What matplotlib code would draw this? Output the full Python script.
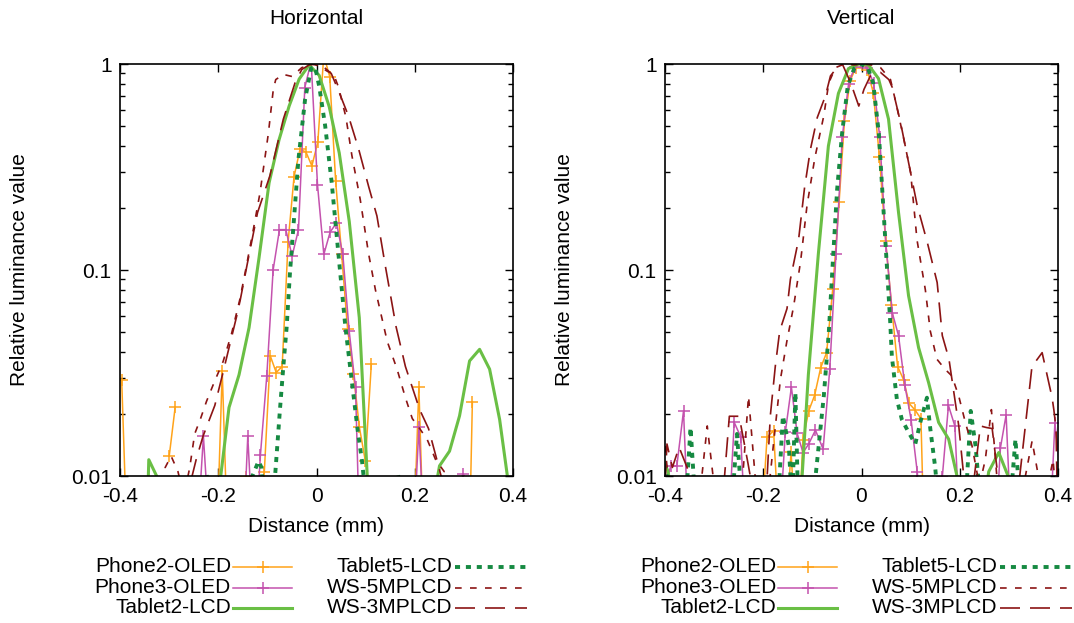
import numpy as np
import matplotlib
matplotlib.use("Agg")
import matplotlib.pyplot as plt
from matplotlib.lines import Line2D
from matplotlib.ticker import LogLocator, NullFormatter, FixedLocator

plt.rcParams['font.family'] = ['Liberation Sans', 'DejaVu Sans']

nan = np.nan

# ---------------- data: Horizontal ----------------
h_phone2_x = [-0.3966, -0.3845, -0.3724, -0.2998, -0.2877, -0.2756, -0.2040, -0.1919, -0.1798, -0.1677,
              -0.1546, -0.1425, -0.1304, -0.1183, -0.1062, -0.0941, -0.0820, -0.0699, -0.0578, -0.0457,
              -0.0336, -0.0215, -0.0094, 0.0027, 0.0148, 0.0269, 0.0390, 0.0511, 0.0632, 0.0753,
              0.0874, 0.0995, 0.1116, 0.1237, 0.1358, 0.1963, 0.2084, 0.2205, 0.2326, 0.3052, 0.3173, 0.3294]
h_phone2_y = [0.0294, 0.004, nan, 0.0125, 0.0216, nan, 0.004, 0.0323, 0.004, nan,
              nan, 0.0099, 0.006, 0.007, 0.0105, 0.0383, 0.0318, 0.034, 0.137, 0.284,
              0.385, 0.374, 0.32, 0.418, 1.1, 0.869, 0.27, 0.12, 0.0519, 0.0312,
              0.0172, 0.0118, 0.0348, nan, nan, 0.004, 0.0269, 0.003, nan, 0.001, 0.0229, nan]

h_phone3_x = [-0.2431, -0.2302, -0.2173, -0.2044, -0.1528, -0.1399, -0.1270, -0.1141, -0.1012, -0.0883,
              -0.0754, -0.0625, -0.0496, -0.0367, -0.0238, -0.0109, 0.0020, 0.0149, 0.0278, 0.0407,
              0.0536, 0.0665, 0.0794, 0.0923, 0.1052, 0.1955, 0.2084, 0.2213, 0.2342, 0.2858, 0.2987,
              0.3116, 0.3245]
h_phone3_y = [0.005, 0.0156, 0.005, nan, 0.003, 0.0156, 0.004, 0.0127, 0.0306, 0.100,
              0.157, 0.157, 0.117, 0.157, 0.768, 1.03, 0.26, 0.119, 0.153, 0.169,
              0.119, 0.0506, 0.0269, 0.002, nan, 0.004, 0.0172, 0.004, nan, 0.009, 0.0102,
              0.009, nan]

h_tablet2_x = [-0.3618, -0.3414, -0.3210, -0.3006, -0.2802, -0.2598, -0.2393, -0.2189, -0.1985, -0.1781,
               -0.1577, -0.1373, -0.1169, -0.0965, -0.0761, -0.0557, -0.0353, -0.0149, 0.0055, 0.0259,
               0.0463, 0.0667, 0.0871, 0.1075, 0.1279, 0.1483, 0.1687, 0.1892, 0.2096, 0.2300,
               0.2504, 0.2708, 0.2912, 0.3116, 0.3320, 0.3524, 0.3728, 0.3932, 0.4136]
h_tablet2_y = [0.0002, 0.012, 0.0095, 0.006, 0.005, 0.005, 0.005, 0.005, 0.0085, 0.0215,
               0.031, 0.0525, 0.115, 0.265, 0.43, 0.625, 0.845, 0.99, 0.88, 0.62,
               0.37, 0.172, 0.0587, 0.0063, 0.004, 0.004, 0.004, 0.004, 0.004, 0.006,
               0.0112, 0.0132, 0.0196, 0.0362, 0.0412, 0.033, 0.0188, 0.0083, 0.005]

h_tablet5_x = [-0.236, -0.224, -0.212, -0.20, -0.145, -0.132, -0.118, -0.112, -0.106, -0.10,
               -0.095, -0.0846, -0.0744, -0.0675, -0.0607, -0.054, -0.0368, -0.0232, -0.011, -0.003,
               0.0055, 0.0177, 0.031, 0.045, 0.0586, 0.0722, 0.0845, 0.0927, 0.100, 0.110,
               0.120, 0.155, 0.166, 0.177]
h_tablet5_y = [0.008, 0.0101, 0.008, nan, 0.006, 0.0098, 0.0118, 0.011, 0.007, nan,
               0.005, 0.0098, 0.021, 0.034, 0.053, 0.097, 0.344, 0.675, 0.95, 0.97,
               0.78, 0.50, 0.265, 0.117, 0.0535, 0.0284, 0.0162, 0.0118, 0.008, 0.005,
               nan, 0.008, 0.0101, 0.008]

h_ws5_x = [-0.320, -0.308, -0.296, -0.282, -0.270, -0.258, -0.248, -0.236, -0.224, -0.207,
           -0.190, -0.173, -0.156, -0.1425, -0.128, -0.115, -0.098, -0.088, -0.083, -0.0675,
           -0.050, -0.030, -0.0096, 0.005, 0.021, 0.035, 0.045, 0.060, 0.072, 0.089,
           0.106, 0.120, 0.144, 0.164, 0.181, 0.195, 0.210, 0.2255, 0.2425, 0.260,
           0.273, 0.285, 0.300]
h_ws5_y = [0.004, 0.011, 0.0125, 0.0105, 0.008, 0.011, 0.016, 0.019, 0.023, 0.029,
           0.036, 0.049, 0.072, 0.105, 0.16, 0.237, 0.46, 0.75, 0.84, 0.89,
           0.87, 0.96, 1.0, 0.98, 0.925, 0.89, 0.77, 0.55, 0.36, 0.22,
           0.12, 0.08, 0.045, 0.033, 0.024, 0.019, 0.017, 0.015, 0.012, 0.0105,
           0.0102, 0.008, 0.005]

h_ws3_x = [-0.270, -0.258, -0.245, -0.231, -0.207, -0.190, -0.163, -0.155, -0.139, -0.120,
           -0.095, -0.0675, -0.0437, -0.030, -0.015, 0.000, 0.012, 0.030, 0.045, 0.065,
           0.086, 0.106, 0.123, 0.140, 0.162, 0.181, 0.210, 0.228, 0.245, 0.256, 0.270]
h_ws3_y = [0.005, 0.009, 0.012, 0.0156, 0.022, 0.032, 0.059, 0.072, 0.113, 0.19,
           0.286, 0.54, 0.81, 0.94, 0.99, 1.0, 0.98, 0.90, 0.74, 0.56,
           0.385, 0.255, 0.183, 0.105, 0.053, 0.034, 0.021, 0.017, 0.012, 0.0095, 0.006]

# ---------------- data: Vertical ----------------
v_phone2_x = [-0.205, -0.1923, -0.179, -0.167, -0.155, -0.1434, -0.131, -0.119, -0.1075, -0.0955,
              -0.083, -0.071, -0.0585, -0.0455, -0.0347, -0.023, -0.0115, 0.000, 0.012, 0.024,
              0.0365, 0.049, 0.061, 0.0735, 0.0855, 0.097, 0.109, 0.121, 0.133]
v_phone2_y = [0.005, 0.0154, 0.0166, 0.005, 0.005, 0.0131, 0.004, 0.015, 0.0207, 0.0246,
              0.0336, 0.0397, 0.081, 0.215, 0.53, 0.83, 0.96, 1.04, 0.93, 0.726,
              0.355, 0.139, 0.068, 0.034, 0.0294, 0.0225, 0.0209, 0.019, 0.0015]

v_phone3_x = [-0.400, -0.388, -0.3759, -0.3623, -0.350, -0.338, -0.272, -0.259, -0.246, -0.233,
              -0.220, -0.168, -0.155, -0.1427, -0.131, -0.119, -0.1075, -0.0938, -0.0781, -0.0646,
              -0.0519, -0.0392, -0.0264, -0.0137, -0.001, 0.0117, 0.0245, 0.0372, 0.0499, 0.0627,
              0.0754, 0.0881, 0.1009, 0.1136, 0.1263, 0.139, 0.1518, 0.1645, 0.177, 0.190,
              0.2025, 0.215, 0.270, 0.2828, 0.2944, 0.307, 0.320, 0.381, 0.3936, 0.406]
v_phone3_y = [0.009, 0.0112, 0.0112, 0.0207, 0.004, nan, 0.005, 0.0182, 0.0155, 0.004,
              nan, 0.005, 0.0164, 0.027, 0.0161, 0.013, 0.0143, 0.0167, 0.0135, 0.033,
              0.12, 0.44, 0.80, 0.97, 1.02, 0.96, 0.81, 0.44, 0.131, 0.062,
              0.048, 0.0277, 0.0188, 0.0104, 0.004, 0.005, 0.006, 0.0099, 0.022, 0.0175,
              0.004, nan, 0.004, 0.0137, 0.0198, 0.004, nan, 0.004, 0.018, 0.010]

v_tablet2_x = [-0.4142, -0.3938, -0.3734, -0.3530, -0.3326, -0.3122, -0.2918, -0.2714, -0.2510, -0.2306,
               -0.2102, -0.1898, -0.1694, -0.1490, -0.1286, -0.1082, -0.0878, -0.0674, -0.0470, -0.0266,
               -0.0062, 0.0142, 0.0346, 0.0550, 0.0754, 0.0958, 0.1162, 0.1366, 0.1570, 0.1774,
               0.1978, 0.2182, 0.2386, 0.2590, 0.2794, 0.2998, 0.3202, 0.3406, 0.3610, 0.3814, 0.4018]
v_tablet2_y = [0.014, 0.0105, 0.005, 0.005, 0.005, 0.005, 0.005, 0.005, 0.005, 0.005,
               0.005, 0.005, 0.005, 0.005, 0.005, 0.031, 0.12, 0.40, 0.72, 0.95,
               1.0, 0.99, 0.85, 0.54, 0.19, 0.075, 0.042, 0.0284, 0.0182, 0.0151,
               0.0092, 0.005, 0.005, 0.0105, 0.013, 0.0098, 0.005, 0.005, 0.005, 0.005, 0.005]

v_tablet5_x = [-0.400, -0.394, -0.388, -0.375, -0.360, -0.348, -0.336, -0.300, -0.266, -0.2535,
               -0.241, -0.200, -0.172, -0.160, -0.148, -0.141, -0.1346, -0.128, -0.115, -0.105,
               -0.0938, -0.0768, -0.0666, -0.0577, -0.0496, -0.0394, -0.028, -0.015, -0.002, 0.012,
               0.0238, 0.0353, 0.0455, 0.0537, 0.0585, 0.0618, 0.072, 0.0822, 0.0958, 0.1095,
               0.1197, 0.1332, 0.140, 0.150, 0.160, 0.185, 0.210, 0.2223, 0.2325, 0.245,
               0.270, 0.300, 0.3134, 0.325]
v_tablet5_y = [0.0115, 0.009, 0.006, nan, 0.006, 0.0172, 0.006, nan, 0.006, 0.016,
               0.006, nan, 0.006, 0.0196, 0.014, 0.007, 0.0254, 0.006, nan, 0.005,
               0.0098, 0.0244, 0.0497, 0.117, 0.246, 0.464, 0.78, 0.95, 1.0, 0.97,
               0.81, 0.46, 0.183, 0.0867, 0.0556, 0.038, 0.0236, 0.0188, 0.0163, 0.0143,
               0.0182, 0.024, 0.017, 0.011, 0.006, nan, 0.006, 0.0207, 0.0138, 0.006,
               nan, 0.006, 0.0151, 0.006]

v_ws5_x = [-0.400, -0.390, -0.375, -0.360, -0.340, -0.327, -0.314, -0.300, -0.287, -0.270,
           -0.255, -0.243, -0.230, -0.215, -0.200, -0.188, -0.177, -0.165, -0.152, -0.138,
           -0.124, -0.111, -0.095, -0.0768, -0.0666, -0.053, -0.035, -0.015, 0.005, 0.020,
           0.0387, 0.059, 0.070, 0.0863, 0.100, 0.113, 0.130, 0.140, 0.1535, 0.170,
           0.184, 0.198, 0.2114, 0.225, 0.240, 0.252, 0.2644, 0.277, 0.290, 0.310,
           0.330, 0.3473, 0.360, 0.375, 0.390, 0.400]
v_ws5_y = [0.014, 0.008, 0.006, 0.008, 0.006, 0.009, 0.0175, 0.009, 0.005, 0.008,
           0.006, 0.009, 0.0244, 0.009, 0.006, 0.009, 0.016, 0.0295, 0.045, 0.067,
           0.11, 0.205, 0.35, 0.56, 0.81, 0.96, 1.0, 0.99, 1.0, 0.99,
           0.96, 0.84, 0.65, 0.43, 0.297, 0.14, 0.08, 0.0506, 0.0369, 0.033,
           0.0306, 0.0244, 0.0182, 0.014, 0.009, 0.012, 0.021, 0.009, 0.006, 0.008,
           0.009, 0.0148, 0.010, 0.008, 0.012, 0.006]

v_ws3_x = [-0.400, -0.396, -0.385, -0.3713, -0.355, -0.340, -0.300, -0.282, -0.269, -0.249,
           -0.231, -0.215, -0.200, -0.192, -0.1856, -0.1754, -0.1665, -0.1516, -0.1448, -0.128,
           -0.116, -0.104, -0.090, -0.0734, -0.0632, -0.050, -0.039, -0.022, -0.0055, 0.005,
           0.018, 0.0387, 0.0557, 0.0626, 0.0795, 0.0932, 0.1135, 0.134, 0.154, 0.1645,
           0.178, 0.198, 0.210, 0.225, 0.242, 0.254, 0.266, 0.280, 0.300, 0.320,
           0.347, 0.3677, 0.388, 0.3915, 0.396, 0.400]
v_ws3_y = [0.009, 0.0143, 0.011, 0.0138, 0.011, 0.007, 0.006, 0.008, 0.0195, 0.0195,
           0.0115, 0.007, 0.008, 0.010, 0.0196, 0.0342, 0.0506, 0.065, 0.09, 0.141,
           0.25, 0.385, 0.55, 0.70, 0.875, 0.96, 1.0, 0.81, 0.625, 0.753,
           0.875, 0.91, 0.84, 0.77, 0.52, 0.357, 0.205, 0.136, 0.087, 0.048,
           0.037, 0.0175, 0.009, 0.008, 0.0175, 0.0172, 0.017, 0.009, 0.006, 0.009,
           0.034, 0.0397, 0.024, 0.021, 0.017, 0.005]

series_names = ['Phone2-OLED', 'Phone3-OLED', 'Tablet2-LCD', 'Tablet5-LCD', 'WS-5MPLCD', 'WS-3MPLCD']
x_ticks = [-0.4, -0.2, 0.0, 0.2, 0.4]
x_tick_labels = ['-0.4', '-0.2', '0', '0.2', '0.4']
y_ticks = [0.01, 0.1, 1]
y_tick_labels = ['0.01', '0.1', '1']

horizontal = [(h_phone2_x, h_phone2_y), (h_phone3_x, h_phone3_y), (h_tablet2_x, h_tablet2_y),
              (h_tablet5_x, h_tablet5_y), (h_ws5_x, h_ws5_y), (h_ws3_x, h_ws3_y)]
vertical = [(v_phone2_x, v_phone2_y), (v_phone3_x, v_phone3_y), (v_tablet2_x, v_tablet2_y),
            (v_tablet5_x, v_tablet5_y), (v_ws5_x, v_ws5_y), (v_ws3_x, v_ws3_y)]

# ---------------- styles ----------------
ORANGE = '#ffa31a'
MAGENTA = '#c452ae'
GREEN = '#6abf45'
DKGREEN = '#168a42'
DKRED = '#8b1414'
styles = [
    dict(color=ORANGE, lw=1.1, marker='+', ms=8, mew=1.1, ls='-'),
    dict(color=MAGENTA, lw=1.1, marker='+', ms=8, mew=1.1, ls='-'),
    dict(color=GREEN, lw=2.2, ls='-'),
    dict(color=DKGREEN, lw=2.8, ls=(0, (1.3, 1.5))),
    dict(color=DKRED, lw=1.2, ls=(0, (4, 5))),
    dict(color=DKRED, lw=1.2, ls=(0, (12, 6))),
]

FS = 15
W, H = 1074, 623
fig = plt.figure(figsize=(W / 100, H / 100), dpi=100)

def px(x0, y0, w, h):
    return [x0 / W, 1 - (y0 + h) / H, w / W, h / H]

def setup(ax, title):
    ax.set_yscale('log')
    ax.set_xlim(-0.4, 0.4)
    ax.set_ylim(0.01, 1)
    ax.set_xticks(x_ticks)
    ax.set_xticklabels(x_tick_labels)
    ax.yaxis.set_major_locator(FixedLocator(y_ticks))
    ax.set_yticklabels(y_tick_labels)
    ax.yaxis.set_minor_locator(LogLocator(base=10, subs=np.arange(2, 10)))
    ax.yaxis.set_minor_formatter(NullFormatter())
    ax.tick_params(which='both', direction='in', top=True, right=True, labelsize=FS, width=1.0, color='black')
    ax.tick_params(which='major', length=6, pad=6)
    ax.tick_params(which='minor', length=3.5)
    ax.tick_params(axis='x', pad=8)
    for s in ax.spines.values():
        s.set_linewidth(1.2)
    ax.set_xlabel('Distance (mm)', fontsize=FS)
    ax.xaxis.label.set_va('center')
    ax.xaxis.set_label_coords(0.5, -51 / 412)
    ax.set_ylabel('Relative luminance value', fontsize=FS)
    ax.yaxis.label.set_va('center')
    ax.yaxis.set_label_coords(-100 / 393, 0.5)
    ax.text(0.5, 1 + 46 / 412, title, transform=ax.transAxes, ha='center', va='center', fontsize=FS)

panels = [(120, 'Horizontal', horizontal), (665, 'Vertical', vertical)]
for left, title, data in panels:
    ax = fig.add_axes(px(left, 64, 393, 412))
    setup(ax, title)
    for (xs, ys), st in zip(data, styles):
        ax.plot(xs, ys, **st)

    # legend (two columns, labels right-aligned before samples)
    off = left - 120
    rows = [567, 587.5, 607.5]
    cols = [(231, 233, 292), (452, 455, 527)]
    for i, (name, st) in enumerate(zip(series_names, styles)):
        c, r = divmod(i, 3)
        xr, l0, l1 = cols[c]
        y = 1 - rows[r] / H
        fig.text((xr + off) / W, y, name, ha='right', va='center', fontsize=FS)
        ln = Line2D([(l0 + off) / W, (l1 + off) / W], [y, y], transform=fig.transFigure,
                    color=st['color'], lw=st['lw'], ls=st['ls'])
        fig.add_artist(ln)
        if st.get('marker'):
            fig.add_artist(Line2D([((l0 + l1) / 2 + off) / W], [y], transform=fig.transFigure,
                                  color=st['color'], marker='+', ms=st['ms'], mew=st['mew'], ls='none'))

fig.savefig('out.png', dpi=100)
